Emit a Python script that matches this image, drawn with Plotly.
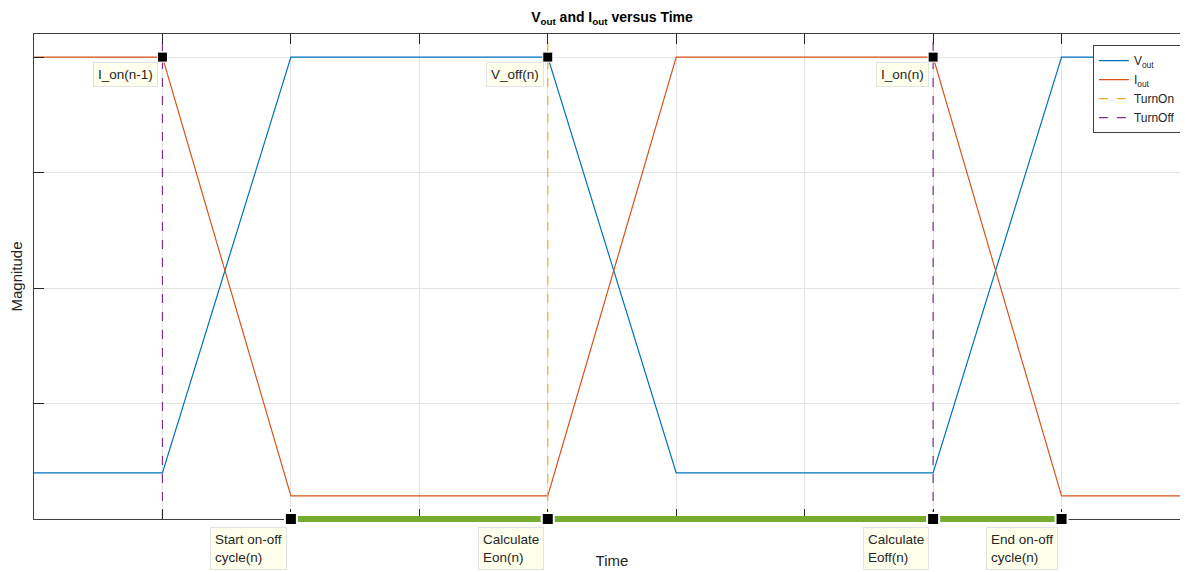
import plotly.graph_objects as go

# ---- data ----
time = [0, 1, 2, 3, 4, 5, 6, 7, 8, 9]
v_out = [0.4, 0.4, 4, 4, 4, 0.4, 0.4, 0.4, 4, 4]
i_out = [4, 4, 0.2, 0.2, 0.2, 4, 4, 4, 0.2, 0.2]
turn_on_x = [4]
turn_off_x = [1, 7]
top_marker_x = [1, 4, 7]
top_marker_y = [4, 4, 4]
top_labels = ["I_on(n-1)", "V_off(n)", "I_on(n)"]
cycle_x = [2, 4, 7, 8]
cycle_y = [0, 0, 0, 0]
cycle_labels = ["Start on-off<br>cycle(n)", "Calculate<br>Eon(n)",
                "Calculate<br>Eoff(n)", "End on-off<br>cycle(n)"]
x_range = [0, 9]
y_range = [0, 4.2]

C_V = "#0072BD"
C_I = "#D95319"
C_ON = "#EDB120"
C_OFF = "#7E2F8E"
C_G = "#77AC30"
FONT = "Liberation Sans, Arial, sans-serif"

def vlines(xs):
    xx, yy = [], []
    for x in xs:
        xx += [x, x, None]
        yy += [y_range[0], y_range[1], None]
    return xx, yy

fig = go.Figure()
fig.add_trace(go.Scatter(x=time, y=v_out, mode="lines", name="V<sub>out</sub>",
                         line=dict(color=C_V, width=1.2)))
fig.add_trace(go.Scatter(x=time, y=i_out, mode="lines", name="I<sub>out</sub>",
                         line=dict(color=C_I, width=1.2)))
xx, yy = vlines(turn_on_x)
fig.add_trace(go.Scatter(x=xx, y=yy, mode="lines", name="TurnOn",
                         line=dict(color=C_ON, width=1.2, dash="dash")))
xx, yy = vlines(turn_off_x)
fig.add_trace(go.Scatter(x=xx, y=yy, mode="lines", name="TurnOff",
                         line=dict(color=C_OFF, width=1.2, dash="dash")))

# top markers
fig.add_trace(go.Scatter(x=top_marker_x, y=top_marker_y,
                         mode="markers", showlegend=False, cliponaxis=False,
                         marker=dict(symbol="square", size=10, color="black",
                                     line=dict(color="white", width=1))))

# green cycle bar segments + bottom markers (shapes, so they sit over the axis line)
shapes = []
for a, b in zip(cycle_x[:-1], cycle_x[1:]):
    shapes.append(dict(type="line", xref="x", yref="paper", x0=a, x1=b, y0=0, y1=0,
                       line=dict(color=C_G, width=6), layer="above"))
for x, y in zip(cycle_x, cycle_y):
    shapes.append(dict(type="rect", xref="x", yref="paper", xsizemode="pixel",
                       ysizemode="pixel", xanchor=x, yanchor=y / (y_range[1] - y_range[0]),
                       x0=-6, x1=6, y0=-6, y1=6, fillcolor="black",
                       line=dict(color="white", width=2), layer="above"))

annotations = []
for x, y, t in zip(top_marker_x, top_marker_y, top_labels):
    annotations.append(dict(x=x, y=y, xref="x", yref="y", text=t, showarrow=False,
                            xanchor="right", yanchor="top", xshift=-4, yshift=-5,
                            align="left", bgcolor="#FFFFEE", bordercolor="#E2E2E2",
                            borderwidth=1, borderpad=4,
                            font=dict(family=FONT, size=13.5, color="#262626")))
for x, y, t in zip(cycle_x, cycle_y, cycle_labels):
    annotations.append(dict(x=x, y=y, xref="x", yref="y", text=t, showarrow=False,
                            xanchor="right", yanchor="top", xshift=-4, yshift=-8,
                            align="left", bgcolor="#FFFFEE", bordercolor="#E2E2E2",
                            borderwidth=1, borderpad=4,
                            font=dict(family=FONT, size=13.5, color="#262626")))

axis_common = dict(showticklabels=False, ticks="inside", ticklen=10, tickwidth=1,
                   tickcolor="#262626", showline=True, linecolor="#404040", linewidth=1,
                   mirror="ticks", showgrid=True, gridcolor="#E3E3E3", gridwidth=1,
                   zeroline=False, automargin=False)

fig.update_layout(
    width=1188, height=572,
    margin=dict(l=26, r=6, t=26, b=61, autoexpand=False),
    paper_bgcolor="white", plot_bgcolor="white",
    font=dict(family=FONT, size=12, color="#262626"),
    title=dict(text="<b>V<sub>out</sub> and I<sub>out</sub> versus Time</b>",
               x=0.5, xref="paper", y=0.984, yanchor="middle", automargin=False,
               font=dict(family=FONT, size=14, color="black")),
    xaxis=dict(range=x_range, dtick=1, tick0=0,
               title=dict(text="Time", standoff=36, font=dict(size=15)), **axis_common),
    yaxis=dict(range=y_range, dtick=1, tick0=0,
               title=dict(text="Magnitude", standoff=8, font=dict(size=15)), **axis_common),
    legend=dict(x=0.916, y=0.977, xanchor="left", yanchor="top", bgcolor="white",
                bordercolor="#404040", borderwidth=1, itemwidth=30,
                font=dict(family=FONT, size=12, color="#262626"), tracegroupgap=0),
    shapes=shapes,
    annotations=annotations,
)

fig.write_html("out.html")
